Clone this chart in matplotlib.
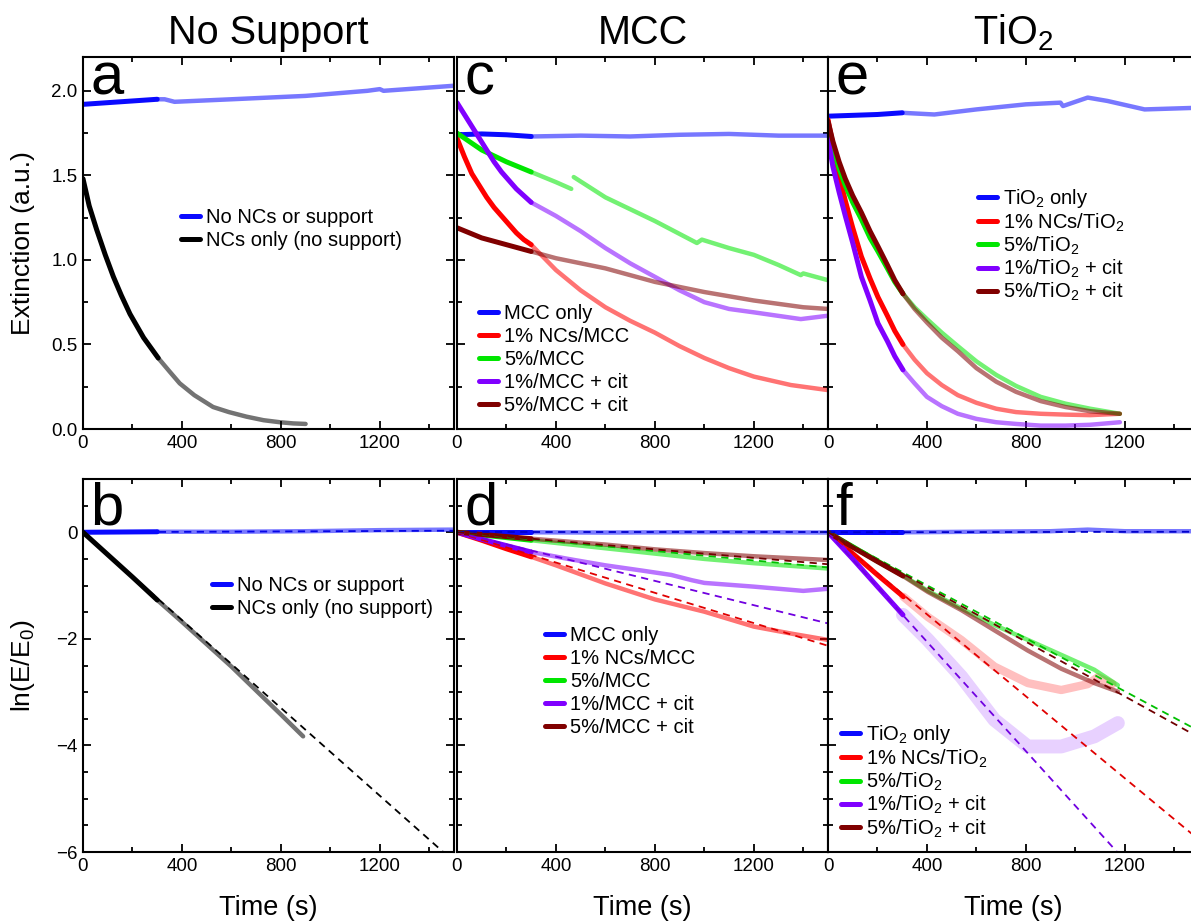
import numpy as np
from matplotlib import pyplot as plt
from matplotlib.ticker import MultipleLocator

plt.rcParams['font.family'] = ['Liberation Sans', 'DejaVu Sans']
plt.rcParams['mathtext.fontset'] = 'custom'
plt.rcParams['mathtext.rm'] = 'Liberation Sans'
plt.rcParams['mathtext.it'] = 'Liberation Sans:italic'
plt.rcParams['axes.linewidth'] = 1.5

# ---- panel a / b : no support ----
t_a_blue = [0, 100, 200, 300, 330, 370, 600, 900, 1150, 1200, 1215, 1500]
E_a_blue = [1.92, 1.93, 1.94, 1.95, 1.95, 1.935, 1.95, 1.97, 2.0, 2.01, 2.0, 2.03]
t_a_black = [0, 25, 55, 90, 123, 155, 190, 245, 304, 350, 391, 450, 526, 590, 661, 730, 796, 850, 900]
E_a_black = [1.48, 1.32, 1.18, 1.03, 0.90, 0.79, 0.68, 0.54, 0.42, 0.34, 0.27, 0.20, 0.13, 0.10,
             0.073, 0.052, 0.04, 0.033, 0.03]

t_b_blue = [0, 300, 600, 900, 1200, 1500]
ln_b_blue = [0, 0.01, 0.01, 0.02, 0.04, 0.05]
t_b_black = [0, 100, 200, 300, 400, 500, 600, 700, 800, 890]
ln_b_black = [0, -0.42, -0.84, -1.27, -1.68, -2.1, -2.52, -2.97, -3.42, -3.83]
fit_b = {'blue': [0, 0.03], 'black': [0, -6.18]}

# ---- panel c / d : MCC ----
t_c_blue = [0, 100, 200, 300, 500, 700, 900, 1100, 1300, 1500]
E_c_blue = [1.74, 1.745, 1.74, 1.73, 1.735, 1.73, 1.74, 1.745, 1.735, 1.735]
t_c_red = [0, 30, 60, 90, 120, 150, 180, 210, 240, 270, 300, 400, 500, 600, 700, 800, 900,
           1000, 1100, 1200, 1350, 1500]
E_c_red = [1.72, 1.61, 1.51, 1.44, 1.37, 1.31, 1.26, 1.21, 1.16, 1.12, 1.09, 0.94, 0.82, 0.72,
           0.64, 0.57, 0.49, 0.42, 0.36, 0.31, 0.26, 0.23]
t_c_green = [0, 100, 200, 300, 400, 462, 467, 472, 600, 800, 970, 990, 1100, 1200, 1300, 1390,
             1400, 1500]
E_c_green = [1.75, 1.65, 1.58, 1.52, 1.46, 1.42, np.nan, 1.49, 1.37, 1.23, 1.10, 1.12, 1.07, 1.03,
             0.97, 0.91, 0.92, 0.88]
t_c_purple = [0, 30, 60, 90, 120, 150, 180, 210, 240, 270, 300, 400, 500, 600, 700, 800, 900,
              1000, 1100, 1200, 1390, 1500]
E_c_purple = [1.93, 1.86, 1.79, 1.72, 1.65, 1.58, 1.52, 1.47, 1.42, 1.38, 1.34, 1.26, 1.17, 1.07,
              0.98, 0.90, 0.82, 0.75, 0.71, 0.69, 0.65, 0.67]
t_c_brown = [0, 100, 200, 300, 400, 600, 800, 1000, 1200, 1400, 1500]
E_c_brown = [1.19, 1.13, 1.09, 1.05, 1.01, 0.95, 0.87, 0.81, 0.76, 0.72, 0.71]

t_d_blue = [0, 300, 600, 900, 1200, 1500]
ln_d_blue = [0, 0, -0.005, 0, 0, -0.005]
t_d_red = [0, 100, 200, 300, 400, 600, 800, 1000, 1200, 1350, 1500]
ln_d_red = [0, -0.15, -0.31, -0.46, -0.62, -0.96, -1.26, -1.49, -1.77, -1.9, -2.02]
t_d_green = [0, 300, 500, 800, 1000, 1200, 1500]
ln_d_green = [0, -0.15, -0.25, -0.40, -0.50, -0.58, -0.68]
t_d_purple = [0, 100, 200, 300, 450, 600, 750, 866, 950, 1000, 1200, 1400, 1500]
ln_d_purple = [0, -0.13, -0.25, -0.37, -0.50, -0.62, -0.72, -0.80, -0.90, -0.95, -1.02, -1.10, -1.06]
t_d_brown = [0, 300, 600, 800, 1000, 1200, 1500]
ln_d_brown = [0, -0.12, -0.23, -0.32, -0.39, -0.45, -0.52]
fit_d = {'blue': [0, 0], 'red': [0, -2.13], 'green': [0, -0.66], 'purple': [0, -1.71], 'brown': [0, -0.60]}

# ---- panel e / f : TiO2 ----
t_e_blue = [0, 100, 200, 300, 430, 600, 800, 940, 950, 1050, 1130, 1280, 1500]
E_e_blue = [1.85, 1.855, 1.86, 1.87, 1.86, 1.89, 1.92, 1.93, 1.91, 1.96, 1.94, 1.89, 1.90]
t_e = [0, 20, 45, 70, 100, 135, 170, 202, 240, 270, 303, 350, 400, 460, 525, 600, 680, 760,
       860, 960, 1060, 1180]
E_e_red = [1.83, 1.68, 1.50, 1.35, 1.19, 1.02, 0.89, 0.78, 0.67, 0.58, 0.50, 0.41, 0.33, 0.26,
           0.20, 0.155, 0.12, 0.10, 0.09, 0.085, 0.082, 0.09]
E_e_purple = [1.72, 1.55, 1.40, 1.26, 1.10, 0.90, 0.76, 0.625, 0.52, 0.43, 0.35, 0.27, 0.19, 0.135,
              0.09, 0.06, 0.04, 0.03, 0.02, 0.02, 0.025, 0.04]
E_e_green = [1.76, 1.66, 1.54, 1.44, 1.34, 1.24, 1.13, 1.05, 0.95, 0.87, 0.80, 0.72, 0.65, 0.57,
             0.49, 0.40, 0.32, 0.255, 0.19, 0.15, 0.12, 0.09]
E_e_brown = [1.82, 1.70, 1.58, 1.48, 1.38, 1.28, 1.17, 1.08, 0.97, 0.88, 0.80, 0.71, 0.63, 0.54,
             0.46, 0.36, 0.28, 0.22, 0.165, 0.13, 0.105, 0.09]

t_f_blue = [0, 300, 600, 900, 1050, 1200, 1500]
ln_f_blue = [0, 0, 0.01, 0.02, 0.05, 0.02, 0.02]
t_f_red = [0, 100, 200, 305, 404, 539, 673, 808, 943, 1050, 1091, 1150]
ln_f_red = [0, -0.40, -0.80, -1.21, -1.59, -2.02, -2.52, -2.83, -2.96, -2.85, -2.72, -2.85]
t_f_purple = [0, 100, 200, 303, 404, 539, 673, 808, 943, 1077, 1172]
ln_f_purple = [0, -0.50, -1.02, -1.55, -2.02, -2.71, -3.52, -4.02, -4.02, -3.83, -3.58]
t_f_gb = [0, 100, 200, 303, 404, 539, 673, 808, 943, 1077, 1172]
ln_f_green = [0, -0.27, -0.54, -0.81, -1.10, -1.43, -1.74, -2.02, -2.30, -2.58, -2.87]
ln_f_brown = [0, -0.28, -0.55, -0.82, -1.12, -1.46, -1.84, -2.22, -2.56, -2.83, -2.99]
fit_f = {'blue': [0, 0.01], 'red': [0, -5.77], 'green': [0, -3.73], 'purple': [0, -7.7], 'brown': [0, -3.85]}
t_fit = [0, 1500]

C = {'blue': '#0a0aff', 'red': '#ff0000', 'green': '#00e600', 'purple': '#8000ff',
     'brown': '#800000', 'black': '#000000'}
CD = {'blue': '#0000cc', 'red': '#e00000', 'green': '#00c000', 'purple': '#7000e0',
      'brown': '#700000', 'black': '#000000'}


def draw(ax, t, y, key, label, alpha=0.55, lw_light=3.2):
    t = np.array(t, float)
    y = np.array(y, float)
    light = t >= 300
    dark = t <= 305
    ax.plot(t[light], y[light], color=C[key], lw=lw_light, alpha=alpha, solid_capstyle='round')
    ax.plot(t[dark], y[dark], color=C[key], lw=3.6, label=label, solid_capstyle='round')


def fit(ax, key, vals):
    ax.plot(t_fit, vals, color=CD[key], lw=1.3, dashes=(4, 3))


def style_ax(ax, top, left):
    ax.set_xlim(0, 1500)
    ax.xaxis.set_major_locator(MultipleLocator(400))
    ax.xaxis.set_minor_locator(MultipleLocator(200))
    if top:
        ax.set_ylim(0, 2.2)
        ax.yaxis.set_major_locator(MultipleLocator(0.5))
        ax.yaxis.set_minor_locator(MultipleLocator(0.25))
        ax.yaxis.set_major_formatter(plt.FormatStrFormatter('%.1f'))
    else:
        ax.set_ylim(-6, 1)
        ax.yaxis.set_major_locator(MultipleLocator(2))
        ax.yaxis.set_minor_locator(MultipleLocator(0.5))
    ax.tick_params(which='both', direction='in', top=True, right=True, labelsize=13.5, width=1.3)
    ax.tick_params(which='major', length=6, pad=4)
    ax.tick_params(which='minor', length=3.5)
    if not left:
        ax.tick_params(labelleft=False)


def legend(ax, x, y, sp=0.2):
    ax.legend(loc='upper left', bbox_to_anchor=(x, y), frameon=False, fontsize=14.5,
              handlelength=0.95, handletextpad=0.3, labelspacing=sp,
              borderaxespad=0, borderpad=0)


def letter(ax, s, y):
    ax.text(0.02, y, s, transform=ax.transAxes, fontsize=43, ha='left', va='baseline')


fig = plt.figure(figsize=(11.91, 9.21), dpi=100)
W, H = 1191.0, 921.0
xs = [83, 457, 828]
w = 371
ax_a = fig.add_axes([xs[0] / W, 1 - 429 / H, w / W, 372 / H])
ax_c = fig.add_axes([xs[1] / W, 1 - 429 / H, w / W, 372 / H])
ax_e = fig.add_axes([xs[2] / W, 1 - 429 / H, w / W, 372 / H])
ax_b = fig.add_axes([xs[0] / W, 1 - 852 / H, w / W, 373 / H])
ax_d = fig.add_axes([xs[1] / W, 1 - 852 / H, w / W, 373 / H])
ax_f = fig.add_axes([xs[2] / W, 1 - 852 / H, w / W, 373 / H])

# a
draw(ax_a, t_a_blue, E_a_blue, 'blue', 'No NCs or support')
draw(ax_a, t_a_black, E_a_black, 'black', 'NCs only (no support)')
legend(ax_a, 0.264, 0.595)
letter(ax_a, 'a', 0.9)

# b
fit(ax_b, 'blue', fit_b['blue'])
fit(ax_b, 'black', fit_b['black'])
draw(ax_b, t_b_blue, ln_b_blue, 'blue', 'No NCs or support')
draw(ax_b, t_b_black, ln_b_black, 'black', 'NCs only (no support)')
legend(ax_b, 0.348, 0.74)
letter(ax_b, 'b', 0.877)

# c
draw(ax_c, t_c_blue, E_c_blue, 'blue', 'MCC only')
draw(ax_c, t_c_red, E_c_red, 'red', '1% NCs/MCC')
draw(ax_c, t_c_green, E_c_green, 'green', '5%/MCC')
draw(ax_c, t_c_purple, E_c_purple, 'purple', '1%/MCC + cit')
draw(ax_c, t_c_brown, E_c_brown, 'brown', '5%/MCC + cit')
legend(ax_c, 0.059, 0.335)
letter(ax_c, 'c', 0.898)

# d
draw(ax_d, t_d_blue, ln_d_blue, 'blue', 'MCC only')
draw(ax_d, t_d_red, ln_d_red, 'red', '1% NCs/MCC')
draw(ax_d, t_d_green, ln_d_green, 'green', '5%/MCC')
draw(ax_d, t_d_purple, ln_d_purple, 'purple', '1%/MCC + cit')
draw(ax_d, t_d_brown, ln_d_brown, 'brown', '5%/MCC + cit')
for k in ['blue', 'red', 'green', 'purple', 'brown']:
    fit(ax_d, k, fit_d[k])
legend(ax_d, 0.237, 0.605)
letter(ax_d, 'd', 0.877)

# e
draw(ax_e, t_e_blue, E_e_blue, 'blue', 'TiO$_2$ only')
draw(ax_e, t_e, E_e_red, 'red', '1% NCs/TiO$_2$')
draw(ax_e, t_e, E_e_green, 'green', '5%/TiO$_2$')
draw(ax_e, t_e, E_e_purple, 'purple', '1%/TiO$_2$ + cit')
draw(ax_e, t_e, E_e_brown, 'brown', '5%/TiO$_2$ + cit')
legend(ax_e, 0.403, 0.65, sp=0.05)
letter(ax_e, 'e', 0.898)

# f
draw(ax_f, t_f_blue, ln_f_blue, 'blue', 'TiO$_2$ only')
draw(ax_f, t_f_red, ln_f_red, 'red', '1% NCs/TiO$_2$', alpha=0.25, lw_light=6)
draw(ax_f, t_f_gb, ln_f_green, 'green', '5%/TiO$_2$')
draw(ax_f, t_f_purple, ln_f_purple, 'purple', '1%/TiO$_2$ + cit', alpha=0.18, lw_light=10)
draw(ax_f, t_f_gb, ln_f_brown, 'brown', '5%/TiO$_2$ + cit')
for k in ['blue', 'red', 'green', 'purple', 'brown']:
    fit(ax_f, k, fit_f[k])
legend(ax_f, 0.035, 0.345, sp=0.05)
letter(ax_f, 'f', 0.877)

for ax, top, left in [(ax_a, True, True), (ax_c, True, False), (ax_e, True, False),
                      (ax_b, False, True), (ax_d, False, False), (ax_f, False, False)]:
    style_ax(ax, top, left)

for ax, title in [(ax_a, 'No Support'), (ax_c, 'MCC'), (ax_e, 'TiO$_2$')]:
    ax.text(0.5, 1.035, title, transform=ax.transAxes, fontsize=28.5, ha='center', va='baseline')

for ax in [ax_b, ax_d, ax_f]:
    ax.text(0.5, -0.169, 'Time (s)', transform=ax.transAxes, fontsize=19.5, ha='center', va='baseline')

ax_a.text(-0.163, 0.5, 'Extinction (a.u.)', transform=ax_a.transAxes, fontsize=19,
          rotation=90, ha='center', va='center')
ax_b.text(-0.163, 0.5, 'ln(E/E$_0$)', transform=ax_b.transAxes, fontsize=19,
          rotation=90, ha='center', va='center')

plt.savefig('out.png', dpi=100)
